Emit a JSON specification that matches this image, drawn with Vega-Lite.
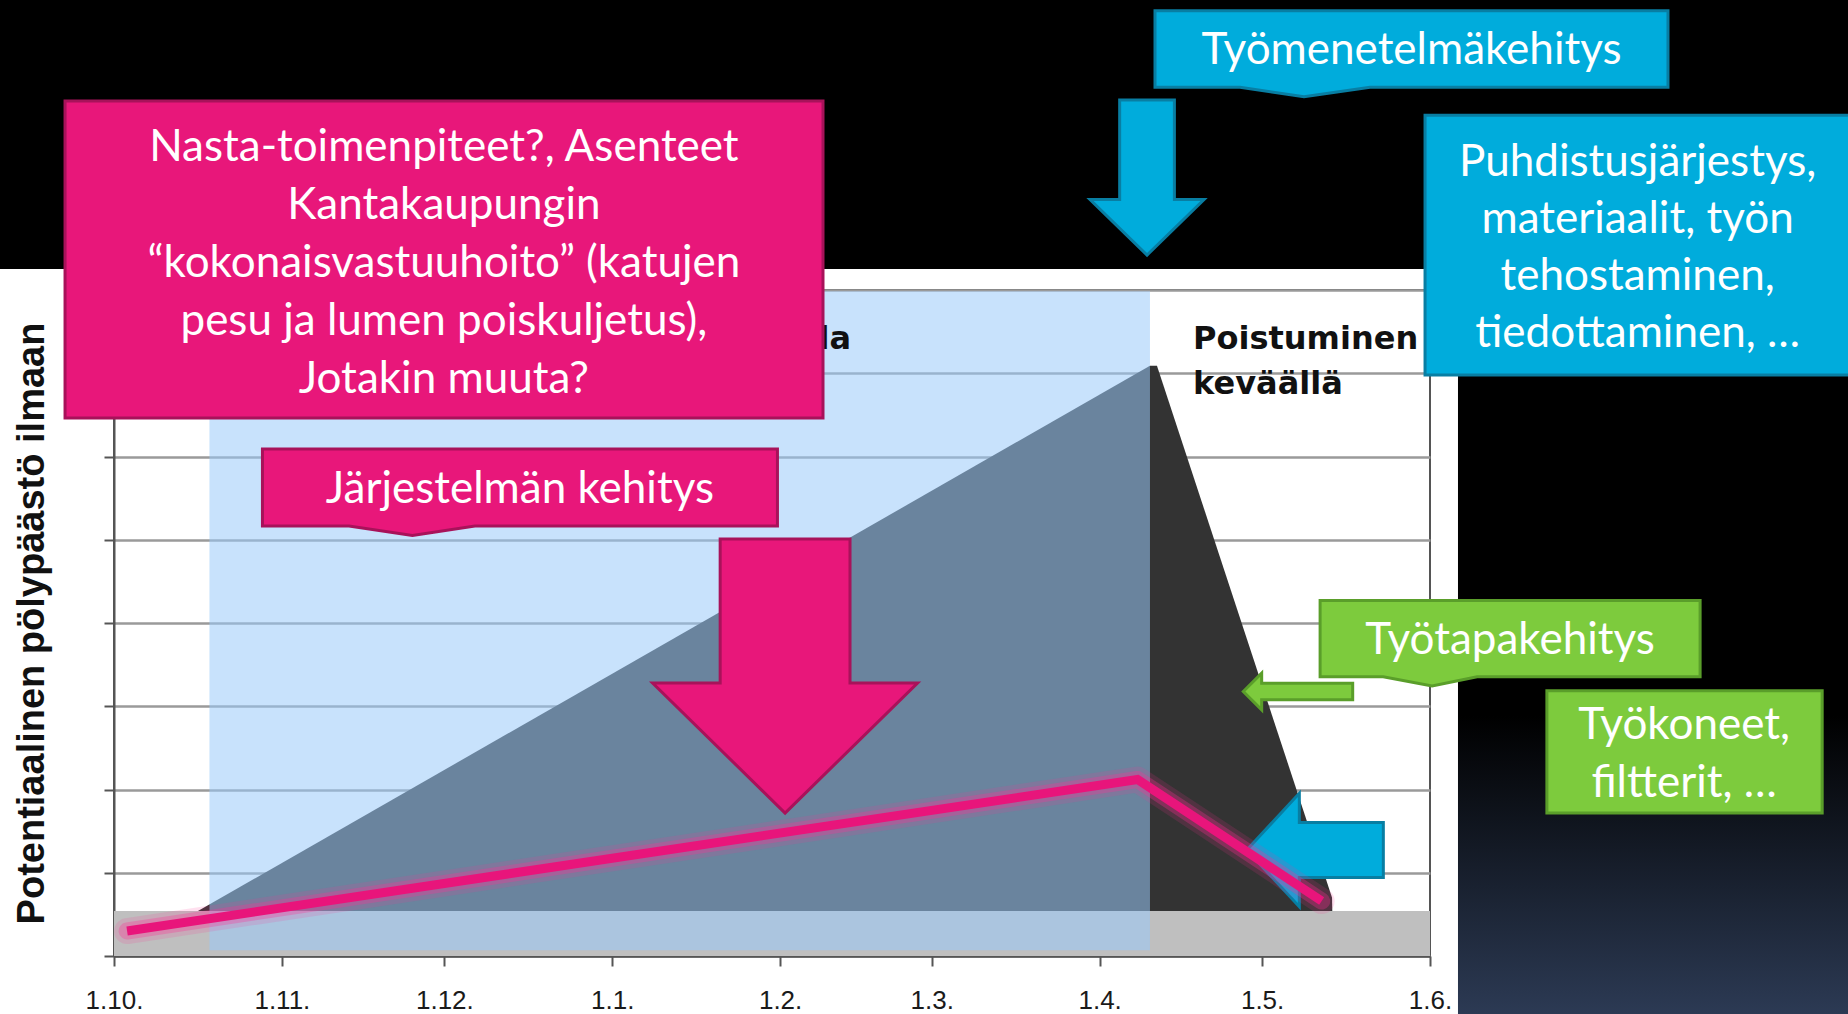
{
  "$schema": "https://vega.github.io/schema/vega-lite/v6.json",
  "width": 1316,
  "height": 666,
  "autosize": {"type": "none"},
  "padding": {"left": 114, "top": 290, "right": 418, "bottom": 58},
  "background": "#ffffff",
  "config": {"view": {"stroke": "#555555", "strokeWidth": 2}},
  "datasets": {
    "emission": [
      {"date": "2010-10-16T12:00Z", "value": 0.54},
      {"date": "2011-04-10T07:00Z", "value": 7.09},
      {"date": "2011-04-11T14:00Z", "value": 7.09},
      {"date": "2011-05-13T22:00Z", "value": 0.70},
      {"date": "2011-05-13T23:00Z", "value": 0.54}
    ],
    "target": [
      {"date": "2010-10-03T10:00Z", "value": 0.30},
      {"date": "2011-04-08T00:00Z", "value": 2.12},
      {"date": "2011-05-12T00:00Z", "value": 0.66}
    ]
  },
  "encoding": {
    "x": {
      "field": "date",
      "type": "temporal",
      "scale": {
        "type": "utc",
        "nice": false,
        "domain": [
          {"year": 2010, "month": "oct", "date": 1, "utc": true},
          {"year": 2011, "month": "jun", "date": 1, "utc": true}
        ]
      },
      "axis": {
        "title": null,
        "values": [
          {"year": 2010, "month": "oct", "date": 1, "utc": true},
          {"year": 2010, "month": "nov", "date": 1, "utc": true},
          {"year": 2010, "month": "dec", "date": 1, "utc": true},
          {"year": 2011, "month": "jan", "date": 1, "utc": true},
          {"year": 2011, "month": "feb", "date": 1, "utc": true},
          {"year": 2011, "month": "mar", "date": 1, "utc": true},
          {"year": 2011, "month": "apr", "date": 1, "utc": true},
          {"year": 2011, "month": "may", "date": 1, "utc": true},
          {"year": 2011, "month": "jun", "date": 1, "utc": true}
        ],
        "labelExpr": "utcFormat(datum.value, '%-d.%-m.')",
        "labelFont": "Liberation Sans",
        "labelFontSize": 26,
        "labelColor": "#1a1a1a",
        "labelPadding": 21,
        "labelOverlap": false,
        "labelFlush": false,
        "tickSize": 10,
        "tickWidth": 2,
        "tickColor": "#555555",
        "domainColor": "#555555",
        "domainWidth": 2.5,
        "grid": false
      }
    },
    "y": {
      "field": "value",
      "type": "quantitative",
      "scale": {"domain": [0, 8], "nice": false, "zero": false},
      "axis": {
        "title": "Potentiaalinen pölypäästö ilmaan",
        "titleFont": "Liberation Sans",
        "titleFontSize": 38,
        "titleFontWeight": "bold",
        "titleColor": "#111111",
        "titlePadding": 52,
        "labels": false,
        "values": [0, 1, 2, 3, 4, 5, 6, 7, 8],
        "tickSize": 10,
        "tickWidth": 2,
        "tickColor": "#555555",
        "domainColor": "#555555",
        "domainWidth": 2,
        "grid": true,
        "gridColor": "#9a9a9a",
        "gridWidth": 2.5
      }
    }
  },
  "layer": [
    {
      "data": {"values": [{"date": "2010-09-01", "date2": "2011-09-01", "value": 8.252, "value2": 12}]},
      "mark": {"type": "rect", "fill": "#000000"},
      "encoding": {"x2": {"field": "date2"}, "y2": {"field": "value2"}}
    },
    {
      "data": {"values": [{"date": "2011-06-06T04:00Z", "date2": "2011-09-01", "value": -1, "value2": 8.252}]},
      "mark": {
        "type": "rect",
        "fill": {
          "gradient": "linear", "x1": 0, "y1": 0, "x2": 0, "y2": 1,
          "stops": [
            {"offset": 0, "color": "#000000"},
            {"offset": 0.58, "color": "#000000"},
            {"offset": 0.967, "color": "#2c3a54"},
            {"offset": 1, "color": "#2e3c57"}
          ]
        }
      },
      "encoding": {"x2": {"field": "date2"}, "y2": {"field": "value2"}}
    },
    {
      "data": {"name": "emission"},
      "mark": {"type": "area", "color": "#333333", "interpolate": "linear"}
    },
    {
      "data": {"values": [{"date": "2010-10-01", "date2": "2011-06-01", "value": 0, "value2": 0.54}]},
      "mark": {"type": "rect", "fill": "#bfbfbf"},
      "encoding": {"x2": {"field": "date2"}, "y2": {"field": "value2"}}
    },
    {
      "data": {"values": [{"date": "2010-10-18T15:00Z", "date2": "2011-04-10T07:00Z", "value": 0.07, "value2": 7.985}]},
      "mark": {"type": "rect", "fill": "#9acafa", "opacity": 0.54},
      "encoding": {"x2": {"field": "date2"}, "y2": {"field": "value2"}}
    },
    {
      "data": {"values": [{"date": "2011-02-14T02:00Z", "value": 7.288, "label": "talvella"}]},
      "mark": {"type": "text", "align": "right", "baseline": "alphabetic", "font": "DejaVu Sans", "fontWeight": "bold", "fontSize": 32, "color": "#111111"},
      "encoding": {"text": {"field": "label"}}
    },
    {
      "data": {"values": [{"date": "2011-04-18T06:00Z", "value": 7.288, "label": "Poistuminen\nkeväällä"}]},
      "mark": {"type": "text", "align": "left", "baseline": "alphabetic", "lineBreak": "\n", "lineHeight": 45, "font": "DejaVu Sans", "fontWeight": "bold", "fontSize": 32, "color": "#111111"},
      "encoding": {"text": {"field": "label"}}
    },
    {
      "data": {"values": [{"date": "2011-05-07T15:00Z", "value": 3.177}]},
      "mark": {"type": "point", "shape": "M-1,0 L-0.664,-0.3355 L-0.664,-0.152 L1,-0.152 L1,0.152 L-0.664,0.152 L-0.664,0.3355 Z", "size": 11968, "filled": true, "fill": "#7dcb3d", "stroke": "#5a9e2a", "strokeWidth": 3, "opacity": 1, "strokeJoin": "miter"}
    },
    {
      "data": {"values": [{"date": "2011-05-10T18:30Z", "value": 1.273}]},
      "mark": {"type": "point", "shape": "M-1,0 L-0.23,-0.83 L-0.23,-0.4026 L1,-0.4026 L1,0.4026 L-0.23,0.4026 L-0.23,0.83 Z", "size": 18660, "filled": true, "fill": "#00acdc", "stroke": "#087ea3", "strokeWidth": 3, "opacity": 1, "strokeJoin": "miter"}
    },
    {
      "data": {"name": "target"},
      "mark": {"type": "line", "color": "#ff2d95", "strokeWidth": 26, "opacity": 0.15, "strokeCap": "round", "strokeJoin": "round"}
    },
    {
      "data": {"name": "target"},
      "mark": {"type": "line", "color": "#ff2d95", "strokeWidth": 17, "opacity": 0.3, "strokeCap": "round", "strokeJoin": "round"}
    },
    {
      "data": {"name": "target"},
      "mark": {"type": "line", "color": "#e8157b", "strokeWidth": 9, "opacity": 1, "strokeCap": "butt", "strokeJoin": "miter"}
    },
    {
      "data": {"values": [{"date": "2011-02-01T22:00Z", "value": 3.363}]},
      "mark": {"type": "point", "shape": "M-0.49,-1.034 L0.49,-1.034 L0.49,0.053 L1,0.053 L0,1.034 L-1,0.053 L-0.49,0.053 Z", "size": 70225, "filled": true, "fill": "#e8177a", "stroke": "#a8125a", "strokeWidth": 3, "opacity": 1, "strokeJoin": "miter"}
    },
    {
      "data": {"values": [{"date": "2010-12-14T23:00Z", "value": 5.628}]},
      "mark": {"type": "point", "shape": "M-1,-0.1495 L1,-0.1495 L1,0.1495 L-0.1748,0.1495 L-0.4175,0.1864 L-0.664,0.1495 L-1,0.1495 Z", "size": 265225, "filled": true, "fill": "#e8177a", "stroke": "#a8125a", "strokeWidth": 3, "opacity": 1, "strokeJoin": "miter"}
    },
    {
      "data": {"values": [{"date": "2010-12-14T23:00Z", "value": 5.44, "label": "Järjestelmän kehitys"}]},
      "mark": {"type": "text", "align": "center", "baseline": "alphabetic", "font": "Lato", "fontSize": 44, "color": "#ffffff"},
      "encoding": {"text": {"field": "label"}}
    },
    {
      "data": {"values": [{"date": "2010-09-21T23:00Z", "date2": "2011-02-08T22:00Z", "value": 6.462, "value2": 10.27}]},
      "mark": {"type": "rect", "fill": "#e8177a", "stroke": "#a8125a", "strokeWidth": 3},
      "encoding": {"x2": {"field": "date2"}, "y2": {"field": "value2"}}
    },
    {
      "data": {"values": [{"date": "2010-11-30T22:00Z", "value": 9.553, "label": "Nasta-toimenpiteet?, Asenteet\nKantakaupungin\n“kokonaisvastuuhoito” (katujen\npesu ja lumen poiskuljetus),\nJotakin muuta?"}]},
      "mark": {"type": "text", "align": "center", "baseline": "alphabetic", "lineBreak": "\n", "lineHeight": 58, "font": "Lato", "fontSize": 44, "color": "#ffffff"},
      "encoding": {"text": {"field": "label"}}
    },
    {
      "data": {"values": [{"date": "2011-05-28T14:00Z", "value": 10.895}]},
      "mark": {"type": "point", "shape": "M-1,-0.1493 L1,-0.1493 L1,0.1493 L-0.1618,0.1493 L-0.4191,0.186 L-0.6686,0.1493 L-1,0.1493 Z", "size": 263169, "filled": true, "fill": "#00acdc", "stroke": "#087ea3", "strokeWidth": 3, "opacity": 1, "strokeJoin": "miter"}
    },
    {
      "data": {"values": [{"date": "2011-05-28T14:00Z", "value": 10.715, "label": "Työmenetelmäkehitys"}]},
      "mark": {"type": "text", "align": "center", "baseline": "alphabetic", "font": "Lato", "fontSize": 44, "color": "#ffffff"},
      "encoding": {"text": {"field": "label"}}
    },
    {
      "data": {"values": [{"date": "2011-04-09T18:00Z", "value": 9.351}]},
      "mark": {"type": "point", "shape": "M-0.48,-1.36 L0.48,-1.36 L0.48,0.386 L1,0.386 L0,1.36 L-1,0.386 L-0.48,0.386 Z", "size": 12996, "filled": true, "fill": "#00acdc", "stroke": "#087ea3", "strokeWidth": 3, "opacity": 1, "strokeJoin": "miter"}
    },
    {
      "data": {"values": [{"date": "2011-05-31T02:00Z", "date2": "2011-09-01", "value": 6.979, "value2": 10.10}]},
      "mark": {"type": "rect", "fill": "#00acdc", "stroke": "#087ea3", "strokeWidth": 3},
      "encoding": {"x2": {"field": "date2"}, "y2": {"field": "value2"}}
    },
    {
      "data": {"values": [{"date": "2011-07-09T08:00Z", "value": 9.369, "label": "Puhdistusjärjestys,\nmateriaalit,  työn\ntehostaminen,\ntiedottaminen, …"}]},
      "mark": {"type": "text", "align": "center", "baseline": "alphabetic", "lineBreak": "\n", "lineHeight": 57, "font": "Lato", "fontSize": 44, "color": "#ffffff"},
      "encoding": {"text": {"field": "label"}}
    },
    {
      "data": {"values": [{"date": "2011-06-15T19:00Z", "value": 3.814}]},
      "mark": {"type": "point", "shape": "M-1,-0.2 L1,-0.2 L1,0.201 L-0.1737,0.201 L-0.4105,0.25 L-0.668,0.201 L-1,0.201 Z", "size": 144400, "filled": true, "fill": "#7dcb3d", "stroke": "#5a9e2a", "strokeWidth": 3, "opacity": 1, "strokeJoin": "miter"}
    },
    {
      "data": {"values": [{"date": "2011-06-15T19:00Z", "value": 3.628, "label": "Työtapakehitys"}]},
      "mark": {"type": "text", "align": "center", "baseline": "alphabetic", "font": "Lato", "fontSize": 44, "color": "#ffffff"},
      "encoding": {"text": {"field": "label"}}
    },
    {
      "data": {"values": [{"date": "2011-06-22T14:00Z", "date2": "2011-08-12T10:00Z", "value": 1.718, "value2": 3.187}]},
      "mark": {"type": "rect", "fill": "#7dcb3d", "stroke": "#5a9e2a", "strokeWidth": 3},
      "encoding": {"x2": {"field": "date2"}, "y2": {"field": "value2"}}
    },
    {
      "data": {"values": [{"date": "2011-07-17T22:00Z", "value": 2.607, "label": "Työkoneet,\nfiltterit, …"}]},
      "mark": {"type": "text", "align": "center", "baseline": "alphabetic", "lineBreak": "\n", "lineHeight": 58, "font": "Lato", "fontSize": 44, "color": "#ffffff"},
      "encoding": {"text": {"field": "label"}}
    }
  ]
}
